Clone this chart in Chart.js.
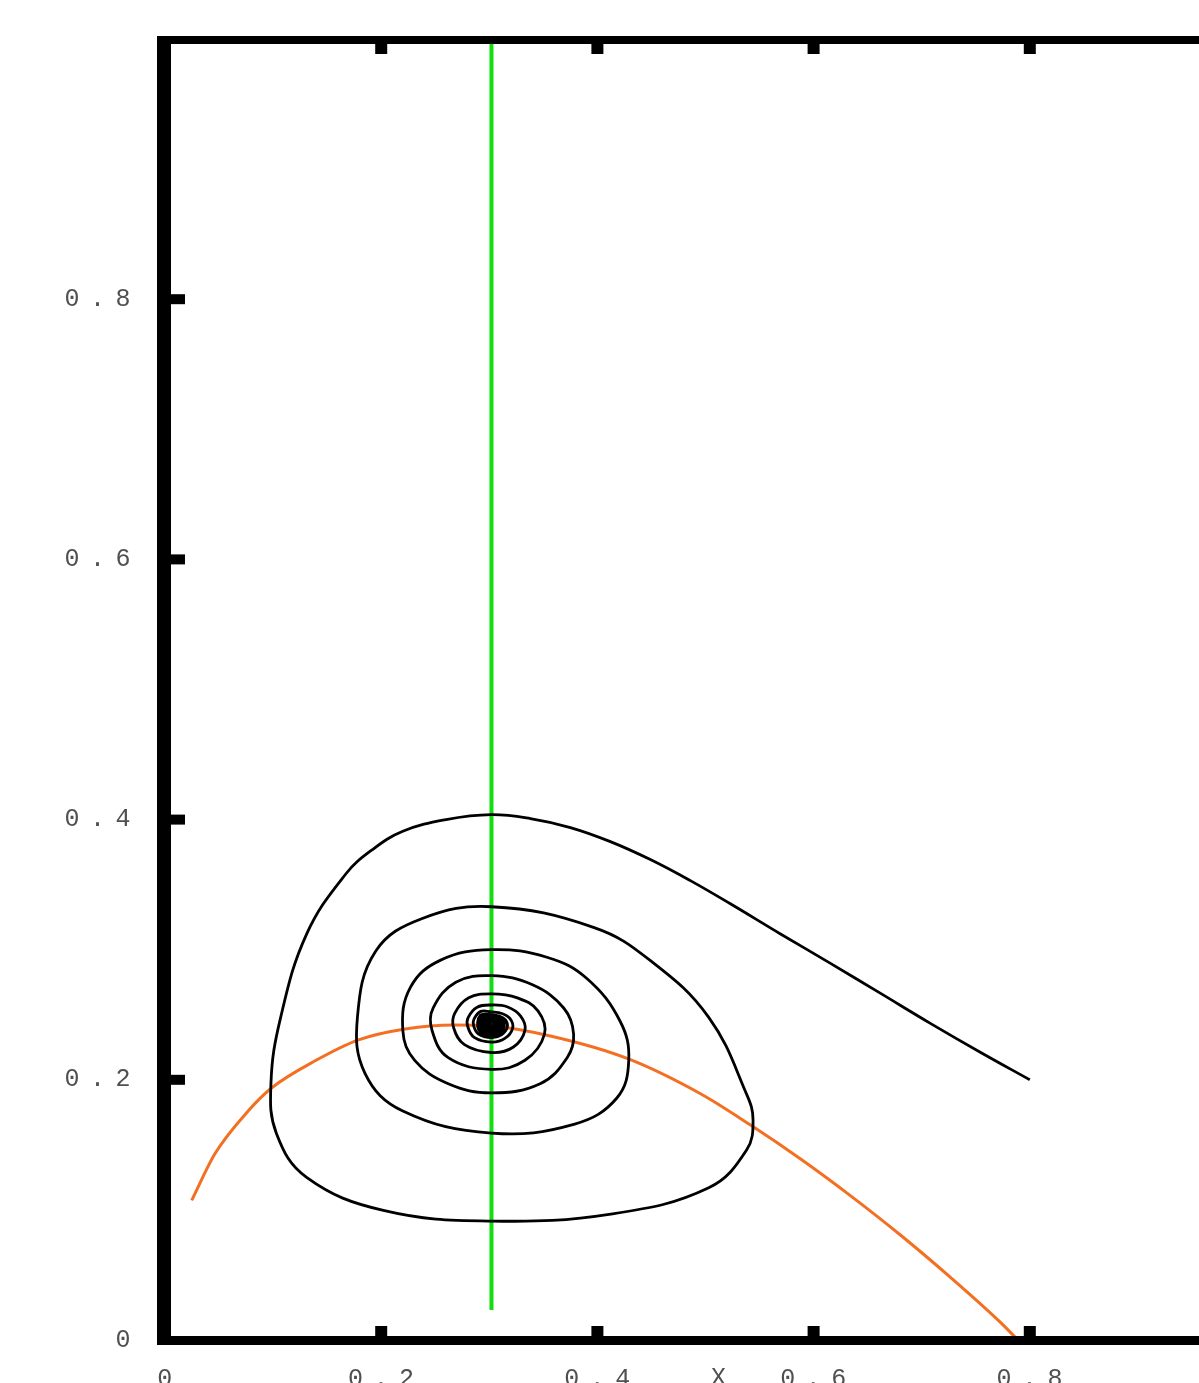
<!DOCTYPE html>
<html>
<head>
<meta charset="utf-8">
<script src="https://cdn.jsdelivr.net/npm/chart.js@4/dist/chart.umd.min.js"></script>
<style>
  html, body { margin: 0; padding: 0; background: #fff; overflow: hidden; }
  #wrap { width: 1270px; height: 1420px; }
</style>
</head>
<body>
<div id="wrap"><canvas id="phase" width="1270" height="1420"></canvas></div>
<script>
// trajectory (spiral into the focus)
const spiralX = [
  0.800, 0.755, 0.708, 0.662, 0.616, 0.569, 0.523, 0.486, 0.449, 0.412, 0.375, 0.338, 0.302,
  0.260, 0.220, 0.192, 0.167, 0.131, 0.107, 0.098, 0.103, 0.131, 0.202,
  0.302, 0.414, 0.503, 0.538, 0.544, 0.538, 0.503, 0.450, 0.397,
  0.302, 0.238, 0.195, 0.178, 0.185, 0.220,
  0.302, 0.379, 0.418, 0.429, 0.421, 0.390, 0.354,
  0.302, 0.255, 0.227, 0.220, 0.231, 0.262,
  0.302, 0.347, 0.372, 0.378, 0.369, 0.340, 0.302, 0.269, 0.248, 0.247, 0.262,
  0.302, 0.333, 0.351, 0.345, 0.326, 0.302,
  0.281, 0.268, 0.267, 0.277, 0.302, 0.322, 0.333, 0.329, 0.317, 0.302,
  0.2888, 0.2804, 0.2800, 0.2860, 0.3020, 0.3144, 0.3216, 0.3192, 0.3116, 0.3020,
  0.2921, 0.2858, 0.2855, 0.2900, 0.3020, 0.3113, 0.3167, 0.3149, 0.3092, 0.3020,
  0.2916, 0.2903, 0.3020, 0.3119, 0.3129, 0.3020,
  0.2932, 0.2921, 0.3020, 0.3104, 0.3112, 0.3020,
  0.2948, 0.2939, 0.3020, 0.3088, 0.3096, 0.3020,
  0.2964, 0.2957, 0.3020, 0.3073, 0.3079, 0.3020,
  0.2980, 0.2975, 0.3020, 0.3058, 0.3062, 0.3020,
  0.2996, 0.2993, 0.3020, 0.3043, 0.3045, 0.3020,
  0.3008, 0.3006, 0.3020, 0.3031, 0.3033, 0.3020,
  0.3020
];
const spiralY = [
  0.200, 0.2208, 0.2434, 0.2664, 0.2893, 0.3123, 0.3353, 0.3531, 0.3693, 0.3831, 0.3939, 0.4008, 0.4038,
  0.400, 0.391, 0.377, 0.358, 0.312, 0.248, 0.197, 0.159, 0.125, 0.0996,
  0.0914, 0.097, 0.117, 0.146, 0.169, 0.189, 0.248, 0.291, 0.317,
  0.333, 0.324, 0.299, 0.248, 0.205, 0.176,
  0.159, 0.166, 0.186, 0.215, 0.245, 0.278, 0.294,
  0.300, 0.292, 0.271, 0.238, 0.215, 0.197,
  0.190, 0.197, 0.217, 0.235, 0.255, 0.273, 0.280, 0.275, 0.255, 0.238, 0.217,
  0.208, 0.215, 0.235, 0.253, 0.263, 0.266,
  0.263, 0.251, 0.240, 0.227, 0.221, 0.225, 0.238, 0.249, 0.256, 0.2575,
  0.2558, 0.2478, 0.2410, 0.2326, 0.2290, 0.2318, 0.2398, 0.2470, 0.2510, 0.2522,
  0.2526, 0.2466, 0.2415, 0.2352, 0.2325, 0.2346, 0.2406, 0.2460, 0.2490, 0.2499,
  0.2495, 0.2383, 0.2339, 0.2373, 0.2456, 0.2490,
  0.2485, 0.2390, 0.2353, 0.2382, 0.2452, 0.2481,
  0.2475, 0.2398, 0.2367, 0.2390, 0.2448, 0.2471,
  0.2465, 0.2405, 0.2381, 0.2399, 0.2444, 0.2462,
  0.2455, 0.2412, 0.2395, 0.2408, 0.2440, 0.2453,
  0.2445, 0.2419, 0.2409, 0.2417, 0.2436, 0.2444,
  0.2438, 0.2425, 0.2420, 0.2423, 0.2433, 0.2437,
  0.2430
];

// prey nullcline (orange)
const nullX = [0.0247, 0.0463, 0.0771, 0.0988, 0.1389, 0.1790, 0.2222, 0.2685, 0.3019, 0.3565, 0.4287, 0.4954, 0.5417, 0.5880, 0.6343, 0.6806, 0.7269, 0.7731, 0.7889];
const nullY = [0.1073, 0.1433, 0.1762, 0.1939, 0.2146, 0.2307, 0.2391, 0.2421, 0.2414, 0.2337, 0.2161, 0.1893, 0.1652, 0.1391, 0.1108, 0.0805, 0.0479, 0.0133, 0.0];

// predator nullcline (green vertical)
const vertX = [0.302, 0.302];
const vertY = [0.023, 1.0];

const xTickValues = [0, 0.2, 0.4, 0.6, 0.8, 1];
const xTickLabels = ['0', '0.2', '0.4', '0.6', '0.8', ''];
const yTickValues = [0, 0.2, 0.4, 0.6, 0.8, 1];
const yTickLabels = ['0', '0.2', '0.4', '0.6', '0.8', ''];

const labelColor = '#505050';
const labelFont = { family: 'Liberation Mono', size: 25 };
const spacing = 10.5;

const toPoints = (xs, ys) => xs.map((v, i) => ({ x: v, y: ys[i] }));

const letterSpacing = {
  id: 'letterSpacing',
  beforeDraw(chart) { chart.ctx.letterSpacing = spacing + 'px'; }
};

// gnuplot style frame with inward ticks, plus the X label on the tick row
const frame = {
  id: 'frame',
  afterDraw(chart) {
    const { ctx, scales: { x, y } } = chart;
    const x0 = x.getPixelForValue(0), x1 = x.getPixelForValue(1);
    const y0 = y.getPixelForValue(0), y1 = y.getPixelForValue(1);
    ctx.save();
    ctx.fillStyle = '#000';
    ctx.fillRect(x0 - 8, y1 - 3, 14, y0 - y1 + 8);
    ctx.fillRect(x0 - 8, y0 - 4, x1 - x0 + 16, 9);
    ctx.fillRect(x0 - 8, y1 - 3, x1 - x0 + 16, 8);
    ctx.fillRect(x1 - 6, y1 - 3, 14, y0 - y1 + 8);
    xTickValues.slice(1, -1).forEach(v => {
      const p = x.getPixelForValue(v);
      ctx.fillRect(p - 6, y0 - 14, 12, 14);
      ctx.fillRect(p - 6, y1 + 4, 12, 11);
    });
    yTickValues.slice(1, -1).forEach(v => {
      const p = y.getPixelForValue(v);
      ctx.fillRect(x0, p - 5, 20, 10);
      ctx.fillRect(x1 - 20, p - 5, 20, 10);
    });
    ctx.fillStyle = labelColor;
    ctx.font = labelFont.size + 'px "' + labelFont.family + '"';
    ctx.letterSpacing = spacing + 'px';
    ctx.textAlign = 'center';
    ctx.textBaseline = 'middle';
    ctx.fillText('X', x.getPixelForValue(0.5) + 13 + spacing / 2, y0 + 24 + 14);
    ctx.restore();
  }
};

new Chart(document.getElementById('phase'), {
  type: 'scatter',
  data: {
    datasets: [
      {
        data: toPoints(spiralX, spiralY),
        showLine: true,
        borderColor: '#000000',
        borderWidth: 2.8,
        pointRadius: 0,
        tension: 0.4,
        order: 1
      },
      {
        data: toPoints(nullX, nullY),
        showLine: true,
        borderColor: '#f36f21',
        borderWidth: 3,
        pointRadius: 0,
        cubicInterpolationMode: 'monotone',
        order: 2
      },
      {
        data: toPoints(vertX, vertY),
        showLine: true,
        borderColor: '#11dd11',
        borderWidth: 4,
        pointRadius: 0,
        order: 3
      }
    ]
  },
  options: {
    responsive: false,
    animation: false,
    layout: { padding: { top: 35, right: 15, left: 0, bottom: 0 } },
    plugins: { legend: { display: false }, tooltip: { enabled: false } },
    scales: {
      x: {
        type: 'linear', min: 0, max: 1,
        border: { display: false },
        grid: { display: false, drawTicks: false },
        afterBuildTicks: s => { s.ticks = xTickValues.map(v => ({ value: v })); },
        ticks: {
          padding: 24, labelOffset: 5, color: labelColor, font: labelFont, maxRotation: 0, autoSkip: false,
          callback: (v, i) => xTickLabels[i]
        },
        afterFit: s => { s.height = 80; }
      },
      y: {
        type: 'linear', min: 0, max: 1,
        border: { display: false },
        grid: { display: false, drawTicks: false },
        afterBuildTicks: s => { s.ticks = yTickValues.map(v => ({ value: v })); },
        ticks: {
          padding: 24, color: labelColor, font: labelFont, autoSkip: false,
          callback: (v, i) => yTickLabels[i]
        },
        afterFit: s => { s.width = 165; }
      }
    }
  },
  plugins: [letterSpacing, frame]
});
</script>
</body>
</html>
